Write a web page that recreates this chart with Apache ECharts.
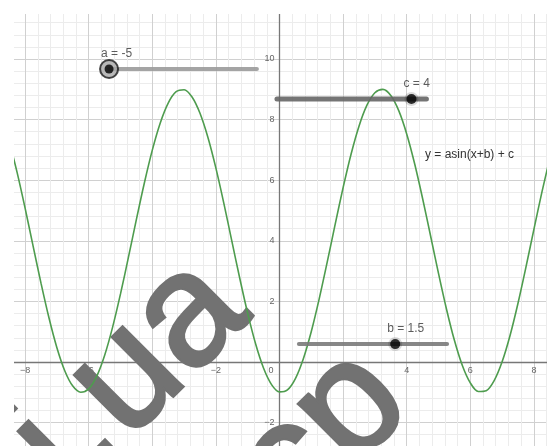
<!DOCTYPE html>
<html>
<head>
<meta charset="utf-8">
<script src="https://cdn.jsdelivr.net/npm/echarts@6/dist/echarts.min.js"></script>
<style>
  html, body { margin: 0; padding: 0; background: #fff; }
  #chart { width: 547px; height: 446px; }
</style>
</head>
<body>
<div id="chart"></div>
<script>
// curve y = a*sin(x+b) + c
const curveX = [-8.5, -8.25, -8, -7.75, -7.5, -7.25, -7, -6.75, -6.5, -6.25, -6, -5.75, -5.5, -5.25, -5, -4.75,
  -4.5, -4.25, -4, -3.75, -3.5, -3.25, -3, -2.75, -2.5, -2.25, -2, -1.75, -1.5, -1.25, -1, -0.75, -0.5, -0.25,
  0, 0.25, 0.5, 0.75, 1, 1.25, 1.5, 1.75, 2, 2.25, 2.5, 2.75, 3, 3.25, 3.5, 3.75, 4, 4.25, 4.5, 4.75,
  5, 5.25, 5.5, 5.75, 6, 6.25, 6.5, 6.75, 7, 7.25, 7.5, 7.75, 8, 8.25, 8.5];
const curveY = [7.285, 6.250, 5.076, 3.834, 2.603, 1.459, 0.472, -0.295, -0.795, -0.996, -0.888, -0.475, 0.216, 1.142, 2.246, 3.459,
  4.706, 5.908, 6.992, 7.890, 8.546, 8.920, 8.987, 8.745, 8.207, 7.408, 6.397, 5.237, 4, 2.763, 1.603, 0.592, -0.207, -0.745,
  -0.987, -0.920, -0.546, 0.110, 1.008, 2.092, 3.294, 4.541, 5.754, 6.858, 7.784, 8.475, 8.888, 8.997, 8.795, 8.295, 7.528, 6.542, 5.397, 4.166,
  2.924, 1.750, 0.715, -0.115, -0.690, -0.973, -0.947, -0.613, 0.008, 0.876, 1.939, 3.131, 4.376, 5.598, 6.720];

// sliders (range -5..5), lines in graph units
const sliderNames = ['a', 'b', 'c'];
const sliderValues = [-5, 1.5, 4];
const sliderMin = -5, sliderMax = 5;
const sliderStartX = [-5.36, 0.61, -0.08];
const sliderEndX = [-0.71, 5.27, 4.62];
const sliderY = [9.67, 0.59, 8.68];

const xTicks = [-8, -6, -4, -2, 0, 2, 4, 6, 8];
const yTicks = [-2, 2, 4, 6, 8, 10];

let chart = echarts.init(document.getElementById('chart'));

let series = [];
series.push({
  type: 'line',
  data: curveX.map((x, i) => [x, curveY[i]]),
  smooth: 0.3,
  showSymbol: false,
  lineStyle: { color: '#4e9c4e', width: 1.6 },
  z: 3
});

let lineColors = ['#9a9a9a', '#7a7a7a', '#666'];
let lineWidths = [4, 4, 5];
let knobs = [];
for (let i = 0; i < sliderNames.length; i++) {
  series.push({
    type: 'line',
    data: [[sliderStartX[i], sliderY[i]], [sliderEndX[i], sliderY[i]]],
    showSymbol: false,
    lineStyle: { color: lineColors[i], width: lineWidths[i], cap: 'round', opacity: 0.9 },
    z: 4
  });
  let kx = sliderStartX[i] + (sliderValues[i] - sliderMin) / (sliderMax - sliderMin) * (sliderEndX[i] - sliderStartX[i]);
  knobs.push([kx, sliderY[i], sliderNames[i] + ' = ' + sliderValues[i]]);
}

// halo / ring behind knobs
series.push({
  type: 'scatter',
  data: knobs.map((k, i) => ({
    value: k,
    symbolSize: i === 0 ? 18 : 14,
    itemStyle: i === 0
      ? { color: '#a8a8a8', borderColor: '#1a1a1a', borderWidth: 2 }
      : { color: 'rgba(0,0,0,0.18)' }
  })),
  silent: true,
  z: 5
});
series.push({
  type: 'scatter',
  data: knobs,
  symbolSize: (v, p) => p.dataIndex === 0 ? 9 : 10,
  itemStyle: { color: '#000' },
  label: {
    show: true,
    position: 'inside',
    align: 'left',
    verticalAlign: 'middle',
    offset: [-8, -15],
    formatter: p => p.value[2],
    color: '#333',
    fontSize: 12,
    fontFamily: 'Liberation Sans'
  },
  z: 6
});

let option = {
  animation: false,
  backgroundColor: '#fff',
  grid: { left: -38.5, top: -1.6, width: 636, height: 484.8, containLabel: false, outerBoundsMode: 'none' },
  xAxis: {
    type: 'value', min: -10, max: 10, interval: 2,
    position: 'bottom', offset: -121.2,
    axisLine: { onZero: false, lineStyle: { color: '#777', width: 1.3 } },
    axisTick: { show: false },
    axisLabel: {
      margin: 4,
      fontSize: 9, color: '#666', fontFamily: 'Liberation Sans',
      formatter: v => xTicks.indexOf(v) < 0 ? '' : (v === 0 ? '{z|0}' : String(v).replace('-', '−')),
      rich: { z: { fontSize: 9, color: '#666', padding: [0, 17, 0, 0] } }
    },
    splitLine: { show: true, lineStyle: { color: '#d0d0d0', width: 1 } },
    minorTick: { show: false, splitNumber: 5 },
    minorSplitLine: { show: true, lineStyle: { color: '#ececec', width: 1 } }
  },
  yAxis: {
    type: 'value', min: -4, max: 12, interval: 2,
    position: 'left', offset: -318,
    axisLine: { onZero: false, lineStyle: { color: '#777', width: 1.3 } },
    axisTick: { show: false },
    axisLabel: {
      margin: 5,
      fontSize: 9, color: '#666', fontFamily: 'Liberation Sans',
      formatter: v => yTicks.indexOf(v) < 0 ? '' : String(v).replace('-', '−')
    },
    splitLine: { show: true, lineStyle: { color: '#d0d0d0', width: 1 } },
    minorTick: { show: false, splitNumber: 5 },
    minorSplitLine: { show: true, lineStyle: { color: '#ececec', width: 1 } }
  },
  graphic: [
    { type: 'rect', left: 0, top: 0, shape: { width: 547, height: 14 }, style: { fill: '#fff' }, z: 50 },
    { type: 'rect', left: 0, top: 0, shape: { width: 14, height: 446 }, style: { fill: '#fff' }, z: 50 },
    {
      type: 'text', left: 425, top: 149, z: 60,
      style: { text: 'y = asin(x+b) + c', fontSize: 12, fontFamily: 'Liberation Sans', fill: '#333' }
    },
    // watermark, under the curve
    {
      type: 'text', x: 222, y: 285, rotation: Math.PI / 4, z: 2,
      style: {
        text: 'i.ua', fontSize: 160, fontFamily: 'Liberation Sans',
        fill: '#727272', stroke: '#727272', lineWidth: 3.5, align: 'right', verticalAlign: 'middle'
      }
    },
    {
      type: 'text', x: 383, y: 377, rotation: Math.PI / 4, z: 2,
      style: {
        text: 'cp', fontSize: 160, fontFamily: 'Liberation Sans',
        fill: '#727272', stroke: '#727272', lineWidth: 3.5, align: 'right', verticalAlign: 'middle'
      }
    }
  ],
  series: series
};
chart.setOption(option);
</script>
</body>
</html>
